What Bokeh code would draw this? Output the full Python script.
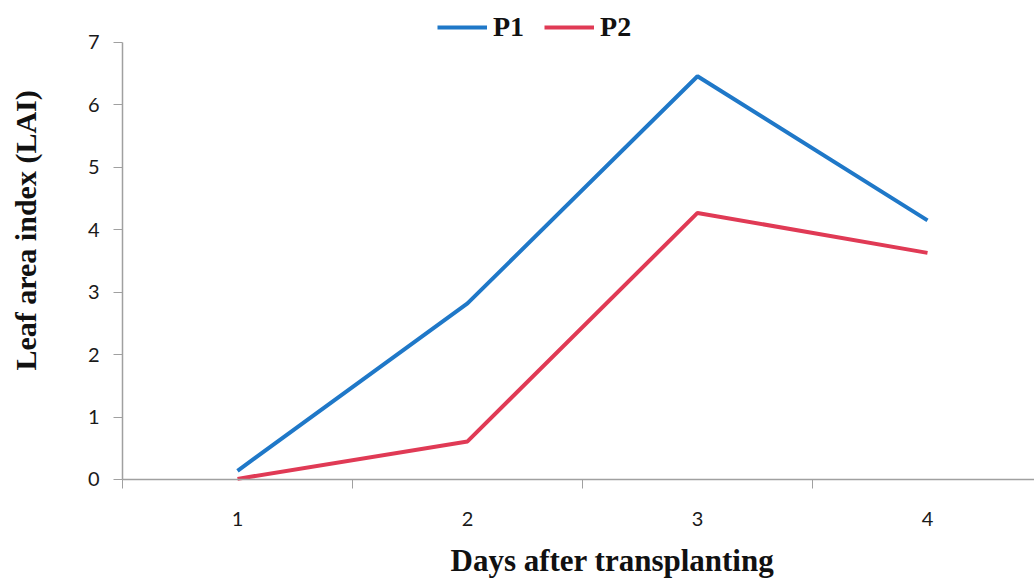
import math
from bokeh.plotting import figure
from bokeh.models import FixedTicker, Range1d, Legend, LegendItem, Label
from bokeh.embed import file_html
from bokeh.resources import INLINE

days = [1, 2, 3, 4]
tick_labels = ["1", "2", "3", "4"]
p1 = [0.14, 2.82, 6.46, 4.15]
p2 = [0.01, 0.61, 4.27, 3.63]
y_ticks = [0, 1, 2, 3, 4, 5, 6, 7]

p = figure(width=1034, height=578, output_backend="svg", toolbar_location=None,
           x_range=Range1d(-0.0304, 4.4652), y_range=Range1d(-1.5858, 7.6726),
           min_border=0, min_border_left=0, min_border_right=0,
           min_border_top=0, min_border_bottom=0)
p.outline_line_color = None
p.xgrid.visible = False
p.ygrid.visible = False

axis_color = "#a0a0a0"
p.xaxis.fixed_location = 0
p.xaxis.bounds = (0.5, 4.6)
p.xaxis.ticker = FixedTicker(ticks=days, minor_ticks=[0.5, 1.5, 2.5, 3.5])
p.xaxis.major_label_overrides = {d: t for d, t in zip(days, tick_labels)}
p.xaxis.major_tick_out = 0
p.xaxis.major_tick_in = 0
p.xaxis.minor_tick_out = 9
p.xaxis.minor_tick_in = 0
p.xaxis.minor_tick_line_color = axis_color
p.xaxis.axis_line_color = axis_color
p.xaxis.axis_line_width = 1.5
p.xaxis.major_label_standoff = 24

p.yaxis.fixed_location = 0.5
p.yaxis.bounds = (0, 7)
p.yaxis.ticker = FixedTicker(ticks=y_ticks)
p.yaxis.major_tick_out = 9
p.yaxis.major_tick_in = 0
p.yaxis.minor_tick_out = 0
p.yaxis.major_tick_line_color = axis_color
p.yaxis.axis_line_color = axis_color
p.yaxis.axis_line_width = 1.5
p.yaxis.major_label_standoff = 14

for ax in (p.xaxis, p.yaxis):
    ax.major_label_text_font = "Lato"
    ax.major_label_text_font_size = "20px"
    ax.major_label_text_color = "#1a1a1a"

r1 = p.line(days, p1, line_color="#1f78c8", line_width=4)
r2 = p.line(days, p2, line_color="#e03a55", line_width=4)

legend = Legend(items=[LegendItem(label="P1", renderers=[r1]),
                       LegendItem(label="P2", renderers=[r2])],
                orientation="horizontal", location=(437, 535),
                label_text_font="Liberation Serif", label_text_font_style="bold",
                label_text_font_size="28px", label_text_color="#111111",
                glyph_width=50, glyph_height=30, label_height=30, label_standoff=6,
                spacing=20, padding=0, margin=0,
                border_line_color=None, background_fill_alpha=0)
p.add_layout(legend, "center")

xt = Label(x=2.63, y=-1.29, text="Days after transplanting",
           text_font="Liberation Serif", text_font_style="bold", text_font_size="31px",
           text_align="center", text_baseline="middle", text_color="#111111")
yt = Label(x=0.078, y=3.99, text="Leaf area index (LAI)", angle=math.pi / 2,
           text_font="Liberation Serif", text_font_style="bold", text_font_size="30px",
           text_align="center", text_baseline="middle", text_color="#111111")
p.add_layout(xt)
p.add_layout(yt)

open("out.html", "w").write(file_html(p, INLINE))
